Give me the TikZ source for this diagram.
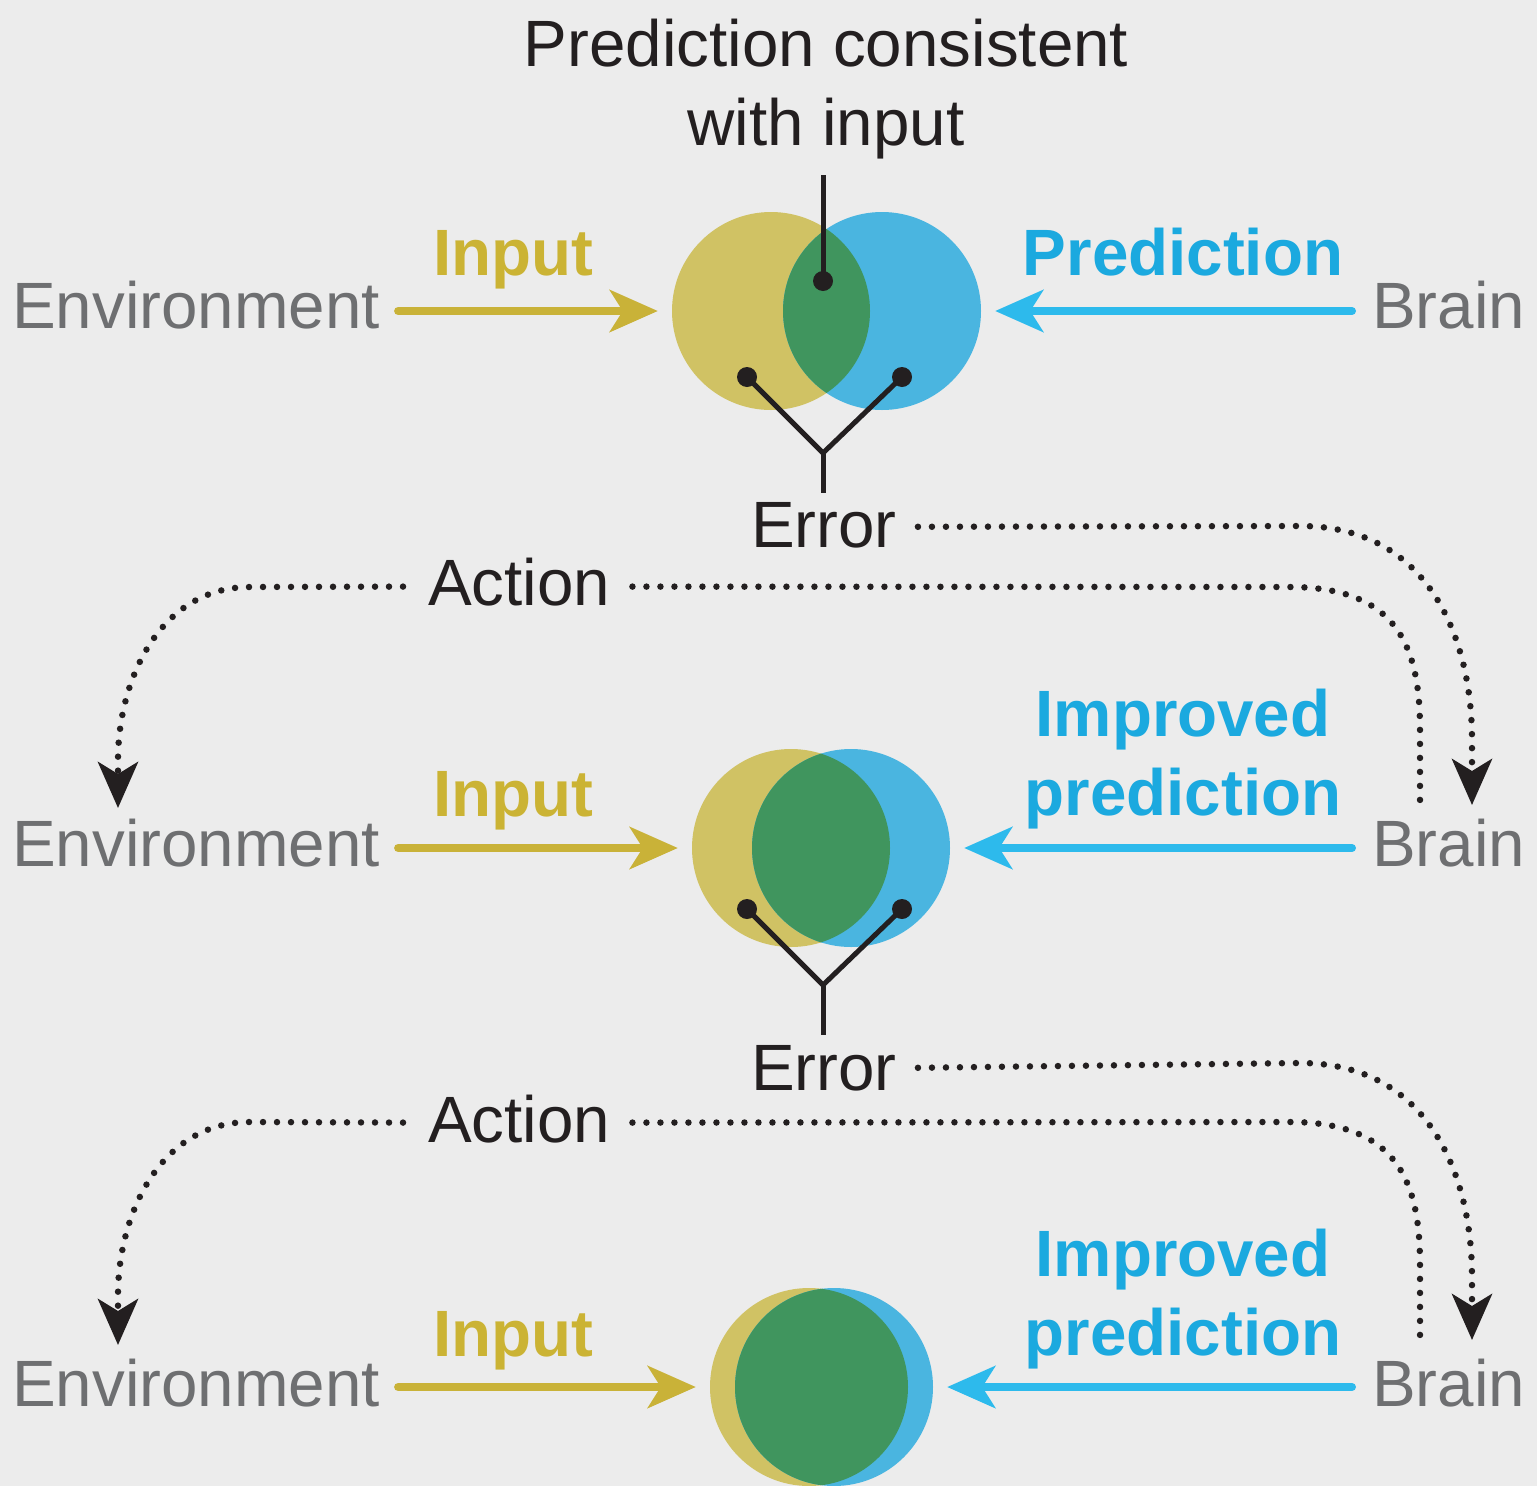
\documentclass[tikz,border=0pt]{standalone}
\usepackage{fontspec}
\setmainfont{Liberation Sans}
\usetikzlibrary{arrows.meta}
\definecolor{bgc}{HTML}{ECECEC}
\definecolor{yfill}{HTML}{D0C264}
\definecolor{bfill}{HTML}{4AB5E0}
\definecolor{gfill}{HTML}{40955E}
\definecolor{yarrow}{HTML}{C9B238}
\definecolor{barrow}{HTML}{2DBAEC}
\definecolor{ytext}{HTML}{CBB334}
\definecolor{btext}{HTML}{1BA9DF}
\definecolor{greytext}{HTML}{6E6F71}
\definecolor{ink}{HTML}{231F20}
\begin{document}
\begin{tikzpicture}[x=1pt,y=-1pt,
  lbl/.style={inner sep=0pt,font=\fontsize{65.5}{79}\selectfont},
  greylbl/.style={lbl,text=greytext,anchor=base west},
  inlbl/.style={lbl,text=ytext,anchor=base west,font=\fontsize{65.5}{79}\selectfont\bfseries},
  predlbl/.style={lbl,text=btext,anchor=base,align=center,font=\fontsize{65.5}{79}\selectfont\bfseries},
  inklbl/.style={lbl,text=ink,anchor=base west},
  ycirc/.style={circle,fill=yfill,minimum size=198pt,inner sep=0pt},
  bcirc/.style={circle,fill=bfill,minimum size=198pt,inner sep=0pt},
  inarrow/.style={draw=yarrow,line width=8pt,line cap=round,-{Stealth[length=48pt,width=42pt,inset=13pt]},shorten <=18pt,shorten >=14pt},
  predarrow/.style={draw=barrow,line width=8pt,line cap=round,-{Stealth[length=48pt,width=42pt,inset=13pt]},shorten <=20pt,shorten >=14pt},
  fork/.style={draw=ink,line width=5pt},
  blob/.style={fill=ink},
  dots/.style={draw=ink,line width=6.5pt,line cap=round,dash pattern=on 0pt off 14pt},
  dotarrow/.style={dots,-{Stealth[length=46pt,width=40pt,inset=12pt]}}
]
\fill[bgc] (0,0) rectangle (1537,1486);
\useasboundingbox (0,0) rectangle (1537,1486);

% ---------- Row 1 ----------
\node[ycirc] (y1) at (771,311) {};
\node[bcirc] (b1) at (882,311) {};
\begin{scope}
  \clip (771,311) circle[radius=99];
  \fill[gfill] (882,311) circle[radius=99];
\end{scope}
\node[greylbl] (env1) at (12,328) {Environment};
\node[greylbl] (brain1) at (1372,328) {Brain};
\node[inlbl] (inp1) at (433,275) {Input};
\node[predlbl] (pred1) at (1183,275) {Prediction};
\draw[inarrow] (env1.east |- y1.center) -- (y1.west);
\draw[predarrow] (brain1.west |- b1.center) -- (b1.east);
\node[lbl,text=ink,anchor=base,align=center] (cons) at (826,145) {Prediction consistent\\with input};
\coordinate (c1) at (823,281);
\coordinate (ctop) at (823,175);
\draw[fork] (ctop) -- (c1);
\fill[blob] (c1) circle[radius=10];
\coordinate (l1) at (747,377);
\coordinate (r1) at (902,377);
\coordinate (j1) at (823,453);
\coordinate (s1) at (823,493);
\node[inklbl] (err1) at (751,547) {Error};
\draw[fork] (l1) -- (j1) -- (r1);
\draw[fork] (j1) -- (s1);
\fill[blob] (l1) circle[radius=10];
\fill[blob] (r1) circle[radius=10];
\node[inklbl] (act1) at (428,605) {Action};

% ---------- Row 2 ----------
\node[ycirc] (y2) at (791,848) {};
\node[bcirc] (b2) at (851,848) {};
\begin{scope}
  \clip (791,848) circle[radius=99];
  \fill[gfill] (851,848) circle[radius=99];
\end{scope}
\node[greylbl] (env2) at (12,866) {Environment};
\node[greylbl] (brain2) at (1372,866) {Brain};
\node[inlbl] (inp2) at (433,816) {Input};
\node[predlbl] (pred2) at (1183,815) {Improved\\prediction};
\draw[inarrow] (env2.east |- y2.center) -- (y2.west);
\draw[predarrow] (brain2.west |- b2.center) -- (b2.east);
\coordinate (l2) at (747,909);
\coordinate (r2) at (902,909);
\coordinate (j2) at (823,985);
\coordinate (s2) at (823,1035);
\draw[fork] (l2) -- (j2) -- (r2);
\draw[fork] (j2) -- (s2);
\fill[blob] (l2) circle[radius=10];
\fill[blob] (r2) circle[radius=10];
\node[inklbl] (err2) at (751,1090) {Error};
\node[inklbl] (act2) at (428,1142) {Action};

% ---------- Row 3 ----------
\node[ycirc] (y3) at (809,1387) {};
\node[bcirc] (b3) at (834,1387) {};
\begin{scope}
  \clip (809,1387) circle[radius=99];
  \fill[gfill] (834,1387) circle[radius=99];
\end{scope}
\node[greylbl] (env3) at (12,1406) {Environment};
\node[greylbl] (brain3) at (1372,1406) {Brain};
\node[inlbl] (inp3) at (433,1356) {Input};
\node[predlbl] (pred3) at (1183,1355) {Improved\\prediction};
\draw[inarrow] (env3.east |- y3.center) -- (y3.west);
\draw[predarrow] (brain3.west |- b3.center) -- (b3.east);

% ---------- Dotted feedback paths ----------
\coordinate (tb2) at (1472,805);
\coordinate (fb2) at (1420,805);
\coordinate (te2) at (118,808);
\coordinate (tb3) at (1472,1340);
\coordinate (fb3) at (1420,1340);
\coordinate (te3) at (118,1345);
% row 1 -> row 2
\draw[dotarrow] ([xshift=21pt,yshift=-2pt]err1.east) -- (1300,526) .. controls (1430,526) and (1472,640) .. (1472,740) -- (tb2);
\draw[dots] ([xshift=22pt,yshift=-5pt]act1.east) -- (1290,587) .. controls (1400,587) and (1420,650) .. (1420,730) -- (fb2);
\draw[dotarrow] ([xshift=-25pt,yshift=-5pt]act1.west) -- (250,587) .. controls (160,587) and (118,680) .. (118,760) -- (te2);
% row 2 -> row 3
\draw[dotarrow] ([xshift=21pt,yshift=0pt]err2.east) -- (1300,1063) .. controls (1430,1063) and (1472,1177) .. (1472,1277) -- (tb3);
\draw[dots] ([xshift=22pt,yshift=-4pt]act2.east) -- (1290,1122) .. controls (1400,1122) and (1420,1185) .. (1420,1265) -- (fb3);
\draw[dotarrow] ([xshift=-25pt,yshift=-4pt]act2.west) -- (250,1122) .. controls (160,1122) and (118,1215) .. (118,1295) -- (te3);
\end{tikzpicture}
\end{document}
